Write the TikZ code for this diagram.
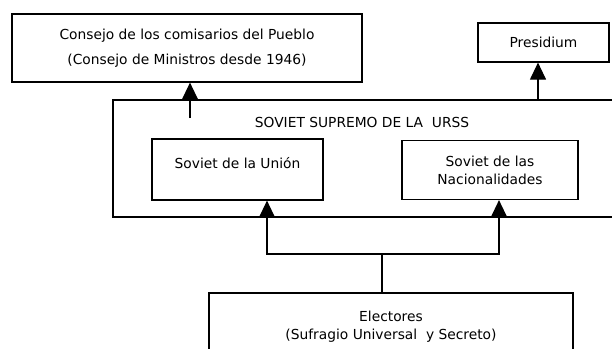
\documentclass[tikz,border=0pt]{standalone}
\usepackage{fontspec}
\setmainfont{DejaVu Sans}
\usetikzlibrary{arrows.meta}

\begin{document}
\begin{tikzpicture}[x=1pt,y=-1pt,line width=1.2pt,
  box/.style={draw,inner sep=0pt,align=center,font=\fontsize{13.8}{18}\selectfont},
  arr/.style={-{Triangle[width=16pt,length=17pt]}}]
\useasboundingbox (0,0) rectangle (612,348);
\node[box,minimum width=350,minimum height=68,font=\fontsize{13.8}{25}\selectfont] (consejo) at (187,48)
  {Consejo de los comisarios del Pueblo\\(Consejo de Ministros desde 1946)};
\node[box,minimum width=131,minimum height=39] (pres) at (543.5,42.5) {Presidium};
\node[box,minimum width=527,minimum height=117] (soviet) at (376.5,158.5) {};
\node[font=\fontsize{13.8}{18}\selectfont] (titulo) at (362,122) {SOVIET SUPREMO DE LA\ \ URSS};
\node[box,minimum width=171,minimum height=61] (union) at (237.5,169.5) {Soviet de la Unión\\[-4pt]\mbox{}};
\node[box,minimum width=176,minimum height=59] (nac) at (490,170) {Soviet de las\\Nacionalidades};
\node[box,minimum width=364,minimum height=67] (elect) at (391,326.5) {Electores\\(Sufragio Universal\ \ y Secreto)};
\coordinate (c0) at (190,118);
\coordinate (p0) at (538,100);
\coordinate (j) at (382,254);
\coordinate (jl) at (267,254);
\coordinate (jr) at (499,254);
\draw[arr] (c0) -- (consejo.south -| c0);
\draw[arr] (p0) -- (pres.south -| p0);
\draw (elect.north -| j) -- (j);
\draw[arr] (j) -- (jl) -- (union.south -| jl);
\draw[arr] (j) -- (jr) -- (nac.south -| jr);
\end{tikzpicture}
\end{document}
